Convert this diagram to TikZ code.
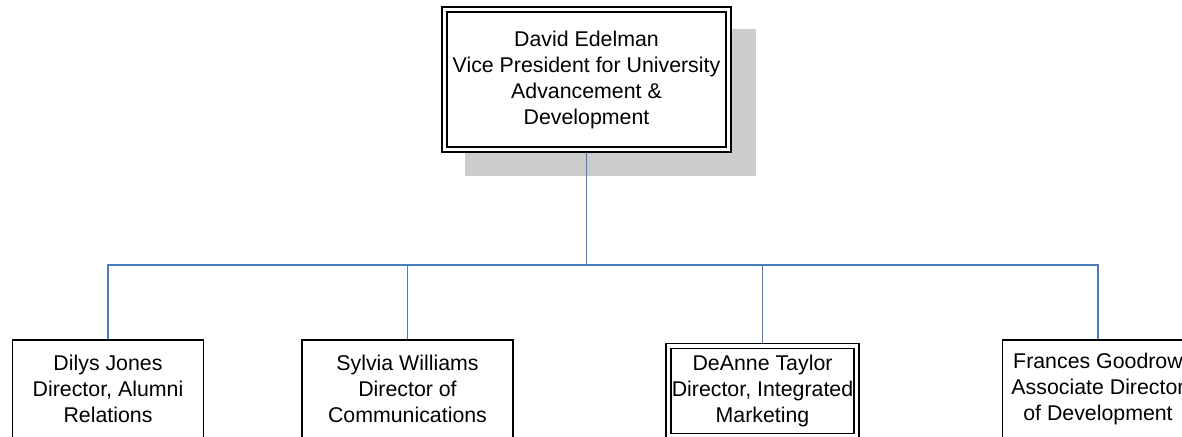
\documentclass[tikz,border=0pt]{standalone}
\usepackage{fontspec}
\setmainfont{Liberation Sans}
\usepackage{tikz}
\usetikzlibrary{calc,positioning,backgrounds}
\definecolor{linkblue}{RGB}{74,126,187}
\definecolor{shadowgray}{RGB}{204,204,204}

\begin{document}
\begin{tikzpicture}[
      x=0.75pt, y=-0.75pt,
      mybox/.style={
         rectangle,
         draw=black,
         line width=1pt,
         fill=white,
         align=center,
         inner sep=0pt,
         minimum width=143.25pt,
         minimum height=73.5pt,
         font=\fontsize{16}{19.5}\selectfont},
      mydoublebox/.style={
         mybox,
         double,
         line width=0.9pt,
         double distance=2.8pt},
      myline/.style={draw=linkblue, line width=1.4pt}
      ]
      \useasboundingbox (0,0) rectangle (1182,436);
      \clip (0,0) rectangle (1182,436);

      % top of the chart
      \node[mydoublebox, minimum width=213pt, minimum height=105pt] (vp) at (586.5,79.5)
         {David Edelman\\Vice President for University\\Advancement \&\\Development};

      % the four directors
      \node[mybox] (dj) at (108,389) {Dilys Jones\\Director, Alumni\\Relations};
      \node[mybox, minimum width=158.25pt] (sw) at (407.5,389) {Sylvia Williams\\Director of\\Communications};
      \node[mydoublebox, minimum width=141pt, minimum height=68pt] (dt) at (762.5,391)
         {DeAnne Taylor\\Director, Integrated\\Marketing};
      \node[mybox] (fg) at (1098,389) {Frances Goodrow\\Associate Director\\of Development};

      \coordinate (split) at (586.5,265);

      \begin{scope}[on background layer]
         % shadow of the top box
         \fill[shadowgray] ($(vp.north west)+(21.5,20.5)$) rectangle ($(vp.south east)+(26.5,25.5)$);
         \draw[myline] (vp) -- (split);
         \foreach \n in {dj,sw,dt,fg}
            \draw[myline] (split) -| (\n);
      \end{scope}
\end{tikzpicture}
\end{document}
